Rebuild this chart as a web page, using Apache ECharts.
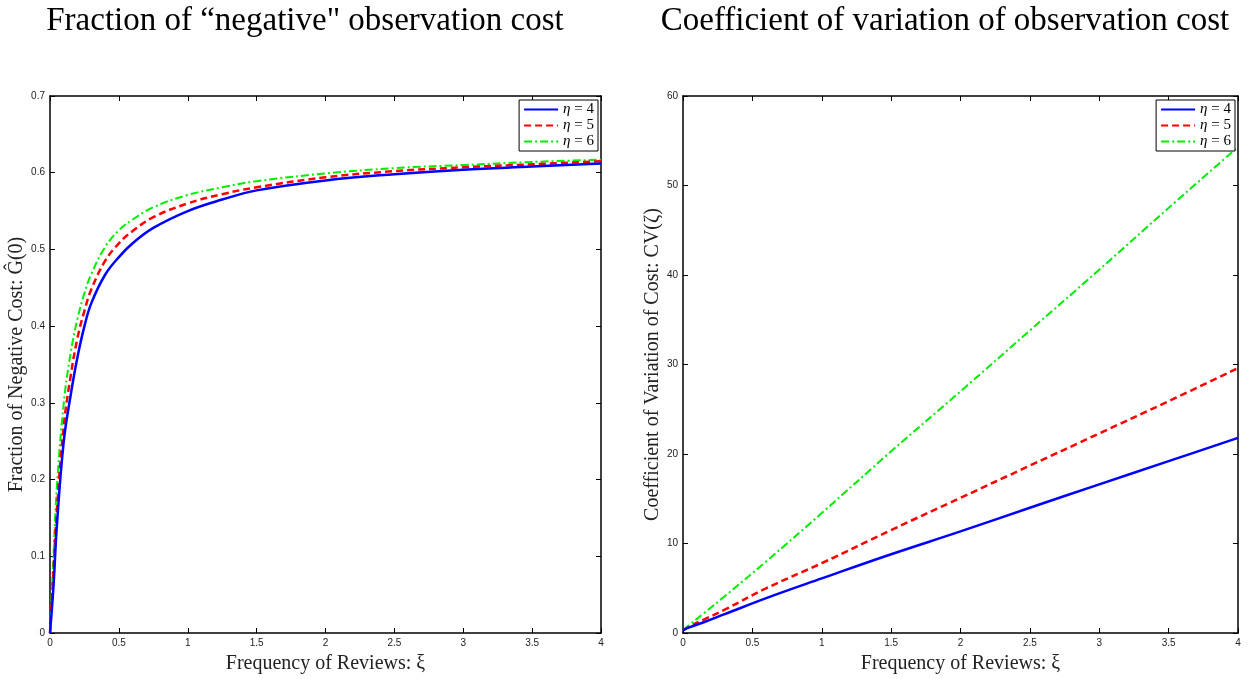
<!DOCTYPE html>
<html>
<head>
<meta charset="utf-8">
<script src="https://cdn.jsdelivr.net/npm/echarts@6/dist/echarts.min.js"></script>
<style>
html,body{margin:0;padding:0;background:#fff;}
#c{width:1250px;height:679px;}
</style>
</head>
<body>
<div id="c"></div>
<script>
// ---- Data ----
var leftXi   = [0, 0.025, 0.05, 0.1, 0.15, 0.2, 0.25, 0.3, 0.4, 0.5, 0.6, 0.75, 1, 1.25, 1.5, 2, 2.5, 3, 3.5, 4];
var leftEta4 = [0, 0.06, 0.14, 0.25, 0.31, 0.36, 0.40, 0.43, 0.467, 0.49, 0.508, 0.528, 0.55, 0.565, 0.577, 0.59, 0.598, 0.604, 0.608, 0.612];
var leftEta5 = [0, 0.08, 0.16, 0.27, 0.335, 0.385, 0.42, 0.448, 0.485, 0.508, 0.524, 0.542, 0.56, 0.572, 0.581, 0.594, 0.602, 0.607, 0.611, 0.615];
var leftEta6 = [0, 0.10, 0.19, 0.30, 0.365, 0.41, 0.443, 0.468, 0.503, 0.525, 0.539, 0.555, 0.571, 0.581, 0.589, 0.599, 0.606, 0.61, 0.614, 0.617];

var rightXi   = [0, 0.05, 0.15, 0.3, 0.6, 1, 1.5, 2, 2.5, 3, 3.5, 4];
var rightEta4 = [0.3, 0.65, 1.2, 2.1, 3.9, 6.1, 8.8, 11.35, 14.0, 16.6, 19.2, 21.8];
var rightEta5 = [0.3, 0.75, 1.5, 2.6, 5.0, 7.8, 11.5, 15.1, 18.7, 22.3, 25.9, 29.6];
var rightEta6 = [0.3, 0.95, 2.2, 4.1, 8.0, 13.4, 20.3, 27.0, 33.8, 40.6, 47.5, 54.3];

var seriesNames = ['η = 4', 'η = 5', 'η = 6'];
var titles = ['Fraction of “negative" observation cost', 'Coefficient of variation of observation cost'];
var xName = 'Frequency of Reviews: ξ';
var yNames = ['Fraction of Negative Cost: Ĝ(0)', 'Coefficient of Variation of Cost: CV(ζ)'];

function pairs(xs, ys){ return xs.map(function(x,i){ return [x, ys[i]]; }); }

var serif = 'Liberation Serif';
var sans = 'Liberation Sans';
var colors = ['#0000ff', '#ff0000', '#00ee00'];
var lineTypes = ['solid', [7, 4], [8, 3, 2, 3]];
var widths = [2.5, 2.5, 2];

function xAxes(gi, pos, show){
  return {
    type:'value', gridIndex:gi, position:pos, min:0, max:4, interval:0.5,
    name: show ? xName : '', nameLocation:'middle', nameGap:21,
    nameTextStyle:{fontFamily:serif, fontSize:20, color:'#222'},
    axisLine:{show:true, onZero:false, lineStyle:{color:'#000', width:1.5}},
    axisTick:{show:true, inside:true, length:5, lineStyle:{color:'#000'}},
    axisLabel:{show:show, fontFamily:sans, fontSize:10, color:'#222', margin:5},
    splitLine:{show:false}
  };
}
function yAxes(gi, pos, show, max, interval, name, gap){
  return {
    type:'value', gridIndex:gi, position:pos, min:0, max:max, interval:interval,
    name: show ? name : '', nameLocation:'middle', nameGap:gap, nameRotate:90,
    nameTextStyle:{fontFamily:serif, fontSize:20, color:'#222'},
    axisLine:{show:true, onZero:false, lineStyle:{color:'#000', width:1.5}},
    axisTick:{show:true, inside:true, length:5, lineStyle:{color:'#000'}},
    axisLabel:{show:show, fontFamily:sans, fontSize:10, color:'#222', margin:5},
    splitLine:{show:false}
  };
}

var data = [
  [leftEta4, leftEta5, leftEta6],
  [rightEta4, rightEta5, rightEta6]
];
var xs = [leftXi, rightXi];

var series = [];
for (var g = 0; g < 2; g++){
  for (var s = 0; s < 3; s++){
    series.push({
      type:'line', name:seriesNames[s], xAxisIndex:g*2, yAxisIndex:g*2,
      data:pairs(xs[g], data[g][s]), smooth:0.4, showSymbol:false, symbol:'none',
      lineStyle:{color:colors[s], width:widths[s], type:lineTypes[s]},
      itemStyle:{color:colors[s]}, animation:false, z: 3 - s + 2
    });
  }
}

function legendFor(rightPx){
  return {
    orient:'vertical', right:rightPx, top:100, itemWidth:34, itemHeight:10, itemGap:1,
    backgroundColor:'#fff', borderColor:'#000', borderWidth:1, padding:[2,4,2,4],
    itemStyle:{opacity:0},
    formatter:function(n){ return '{i|η} = ' + n.split('= ')[1]; },
    textStyle:{fontFamily:serif, fontSize:15, color:'#000',
      rich:{i:{fontFamily:serif, fontSize:15, fontStyle:'italic', color:'#000'}}},
    data:seriesNames.slice()
  };
}

var option = {
  backgroundColor:'#fff',
  animation:false,
  title:[
    {text:titles[0], left:300, top:0, textAlign:'center', textStyle:{fontFamily:serif, fontSize:33, fontWeight:'normal', color:'#000'}},
    {text:titles[1], left:940, top:0, textAlign:'center', textStyle:{fontFamily:serif, fontSize:33, fontWeight:'normal', color:'#000'}}
  ],
  grid:[
    {left:50, top:96, width:551, height:541},
    {left:683, top:96, width:555, height:541}
  ],
  xAxis:[xAxes(0,'bottom',true), xAxes(0,'top',false), xAxes(1,'bottom',true), xAxes(1,'top',false)],
  yAxis:[
    yAxes(0,'left',true,0.7,0.1,yNames[0],16), yAxes(0,'right',false,0.7,0.1,'',0),
    yAxes(1,'left',true,60,10,yNames[1],19), yAxes(1,'right',false,60,10,'',0)
  ],
  legend:[legendFor(1250-601+3), legendFor(1250-1238+3)],
  series:series
};

var chart = echarts.init(document.getElementById('c'), null, {renderer:'canvas'});
chart.setOption(option);
</script>
</body>
</html>
